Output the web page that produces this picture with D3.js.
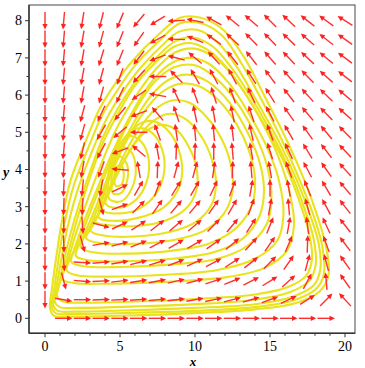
<!DOCTYPE html>
<html><head><meta charset="utf-8">
<script src="https://cdn.jsdelivr.net/npm/d3@7"></script>
<style>body{margin:0;background:#fff}svg{display:block}</style>
</head><body>
<script>
// ---- data ----
const xGrid = [0,1.25,2.5,3.75,5,6.25,7.5,8.75,10,11.25,12.5,13.75,15,16.25,17.5,18.75,20];
const yGrid = [0,0.5,1,1.5,2,2.5,3,3.5,4,4.5,5,5.5,6,6.5,7,7.5,8];
// direction of the field arrow at each grid node (degrees, 0 = right, 90 = up); rows bottom to top
const angleRows = [
 [null,0,0,0,0,0,0,0,0,0,0,0,0,0,0,0,null],
 [-90,-10,0,2,3,4,5,7,10,12,14,16,20,25,32,45,133],
 [-90,-75,-5,3,7,9,11,13,15,18,22,27,32,42,62,95,125],
 [-90,-85,-3,5,10,14,17,21,25,28,33,38,45,55,75,105,125],
 [-90,-88,-75,10,15,22,27,30,30,35,40,47,55,67,88,110,127],
 [-90,-90,-86,-15,25,33,38,40,40,45,50,57,68,80,97,115,128],
 [-90,-92,-93,-75,20,45,55,50,50,55,60,70,80,95,105,118,128],
 [-90,-93,-96,-100,25,60,70,58,60,65,70,80,90,100,112,120,130],
 [-90,-94,-100,-110,175,100,88,75,75,82,88,95,100,110,118,125,132],
 [-90,-95,-103,-118,-160,140,100,88,88,90,95,100,107,115,121,127,133],
 [-90,-95,-105,-120,-140,180,110,98,95,95,97,103,110,120,125,130,135],
 [-90,-95,-105,-115,-130,-160,130,108,102,100,102,108,117,125,130,134,138],
 [-90,-95,-100,-105,-115,-145,170,115,110,108,110,115,122,128,132,136,140],
 [-90,-95,-100,-105,-110,-133,180,135,120,118,118,122,127,131,134,138,142],
 [-90,-95,-100,-107,-112,-128,-160,165,140,132,128,128,131,134,137,140,143],
 [-90,-95,-100,-105,-112,-125,-152,178,158,145,137,134,134,136,139,142,145],
 [-90,-95,-99,-104,-113,-130,-148,-176,168,151,141,139,135,137,142,144,148]
];
// trajectory loops (x, y), outer to inner
const loopB1 = [[0.33,0.28],[0.55,0.08],[2,0.05],[6,0.08],[10,0.14],[14,0.24],[16.8,0.42],[18.3,0.72],[18.9,1.15],[18.75,1.9],[18.2,2.7],[17.3,3.7],[16.1,4.8],[14.6,6.0],[13.3,7.0],[11.9,7.75],[10.4,8.08],[9.0,8.08],[7.5,7.6],[5.9,6.95],[4.5,6.2],[3.6,5.6],[2.7,4.75],[1.7,3.7],[1.1,2.55],[0.7,1.5],[0.45,0.75]];
const loopB2 = [[0.45,0.3],[0.7,0.14],[2,0.12],[6,0.15],[10,0.2],[14,0.3],[16.7,0.5],[18.1,0.8],[18.6,1.2],[18.5,1.9],[18,2.65],[17.1,3.6],[15.9,4.7],[14.4,5.9],[13.1,6.85],[11.8,7.6],[10.4,7.93],[9.0,7.93],[7.6,7.45],[6.0,6.8],[4.7,6.05],[3.8,5.45],[2.9,4.6],[1.9,3.55],[1.25,2.45],[0.85,1.45],[0.6,0.75]];
const loopB3 = [[0.55,0.35],[0.85,0.2],[2,0.18],[6,0.22],[10,0.28],[14,0.38],[16.5,0.58],[17.9,0.88],[18.35,1.3],[18.25,2.0],[17.7,2.75],[16.8,3.7],[15.6,4.75],[14.1,5.85],[12.8,6.75],[11.5,7.42],[10.2,7.75],[8.9,7.7],[7.6,7.25],[6.1,6.6],[4.8,5.85],[3.9,5.2],[3.0,4.35],[2.1,3.35],[1.45,2.35],[1.0,1.4],[0.72,0.75]];
const loopB4 = [[0.65,0.45],[1.0,0.3],[2.2,0.28],[6,0.32],[10,0.38],[14,0.5],[16.3,0.7],[17.6,1.0],[18.05,1.45],[17.9,2.15],[17.3,2.95],[16.4,3.9],[15.2,4.9],[13.8,5.9],[12.5,6.7],[11.2,7.3],[9.9,7.55],[8.7,7.45],[7.4,7.0],[6.0,6.35],[4.8,5.6],[3.9,4.9],[3.1,4.05],[2.3,3.1],[1.65,2.2],[1.15,1.35],[0.85,0.75]];
const loopB5 = [[0.8,0.6],[1.2,0.45],[2.5,0.42],[6,0.45],[10,0.52],[14,0.64],[16.2,0.84],[17.4,1.14],[17.8,1.6],[17.6,2.3],[17.0,3.1],[16.1,4.05],[14.9,5.0],[13.5,5.95],[12.2,6.7],[10.9,7.2],[9.7,7.4],[8.6,7.3],[7.3,6.85],[5.9,6.2],[4.8,5.45],[3.9,4.75],[3.1,3.9],[2.35,2.95],[1.7,2.0],[1.2,1.2]];
const loopA2 = [[1.15,1.05],[1.9,0.95],[4,0.93],[8,0.98],[12,1.1],[14.6,1.35],[16.1,1.8],[16.6,2.5],[16.3,3.4],[15.5,4.4],[14.3,5.4],[12.9,6.3],[11.5,6.95],[10,7.25],[8.7,7.15],[7.4,6.7],[6.1,6.0],[4.9,5.2],[3.9,4.3],[2.9,3.25],[2.0,2.2],[1.5,1.5]];
const loopA3 = [[1.45,1.28],[2.2,1.15],[4,1.12],[8,1.17],[11.5,1.3],[14,1.6],[15.5,2.1],[15.9,2.8],[15.6,3.7],[14.8,4.6],[13.6,5.5],[12.3,6.3],[10.9,6.85],[9.5,7.0],[8.2,6.8],[6.9,6.25],[5.7,5.45],[4.6,4.55],[3.6,3.6],[2.6,2.6],[1.9,1.8]];
const loopA4 = [[1.75,1.52],[2.6,1.4],[5,1.38],[8.5,1.45],[11.5,1.6],[13.5,1.95],[14.8,2.55],[15.1,3.3],[14.8,4.1],[14.0,4.95],[12.8,5.8],[11.4,6.45],[10,6.8],[8.6,6.75],[7.3,6.35],[6.1,5.65],[5.0,4.8],[4.0,3.85],[3.1,2.95],[2.3,2.1]];
const loopA5 = [[2.05,1.68],[2.9,1.56],[5,1.53],[8.5,1.6],[11.3,1.78],[13.2,2.15],[14.3,2.75],[14.6,3.45],[14.3,4.2],[13.5,5.0],[12.3,5.8],[10.9,6.35],[9.5,6.55],[8.2,6.4],[7.0,5.95],[5.9,5.25],[4.9,4.45],[4.0,3.6],[3.2,2.8],[2.5,2.15]];
const loopA6 = [[2.4,1.9],[3.3,1.77],[5.5,1.74],[8.5,1.82],[11,2.02],[12.8,2.45],[13.8,3.05],[14.0,3.75],[13.6,4.5],[12.8,5.2],[11.6,5.85],[10.2,6.25],[8.9,6.3],[7.7,6.05],[6.6,5.55],[5.6,4.9],[4.7,4.15],[3.9,3.35],[3.1,2.55]];
const loopA7 = [[2.75,2.15],[3.7,2.02],[5.8,2.0],[8.5,2.1],[10.6,2.35],[11.9,2.8],[12.5,3.4],[12.4,4.1],[11.8,4.8],[10.8,5.4],[9.6,5.8],[8.4,5.85],[7.3,5.6],[6.3,5.1],[5.4,4.5],[4.6,3.8],[3.8,3.0],[3.2,2.5]];
const loopA8 = [[3.05,2.35],[4.0,2.22],[6,2.2],[8.3,2.32],[10.1,2.6],[11.1,3.05],[11.4,3.65],[11.1,4.3],[10.4,4.9],[9.4,5.35],[8.3,5.5],[7.2,5.3],[6.2,4.85],[5.3,4.25],[4.5,3.6],[3.7,2.9]];
const loopA9 = [[3.35,2.6],[4.3,2.5],[6.1,2.48],[8.0,2.62],[9.4,2.95],[10.1,3.45],[10.1,4.05],[9.6,4.6],[8.8,5.05],[7.8,5.2],[6.8,5.05],[5.9,4.65],[5.0,4.05],[4.3,3.4],[3.7,2.9]];
const loopA10 = [[3.6,2.7],[4.7,2.62],[6.2,2.7],[7.8,2.95],[8.8,3.4],[9.15,3.95],[8.9,4.55],[8.2,5.05],[7.2,5.3],[6.2,5.2],[5.3,4.75],[4.5,4.05],[3.9,3.3]];
const loopA11 = [[3.85,2.9],[5.0,2.82],[6.3,2.95],[7.4,3.35],[7.95,3.95],[7.8,4.55],[7.1,5.0],[6.1,5.1],[5.2,4.8],[4.5,4.2],[4.0,3.5]];
const loopA12 = [[4.1,3.05],[5.1,2.98],[6.1,3.2],[6.8,3.7],[6.9,4.3],[6.4,4.75],[5.6,4.9],[4.85,4.6],[4.3,4.0],[4.05,3.45]];
const loopA13 = [[4.3,3.2],[5.1,3.15],[5.8,3.5],[6.05,4.05],[5.7,4.5],[5.0,4.6],[4.45,4.25],[4.2,3.65]];
const loopA14 = [[4.55,3.35],[5.1,3.38],[5.5,3.75],[5.45,4.15],[5.0,4.35],[4.6,4.1],[4.42,3.7]];
const loopA15 = [[4.75,3.55],[5.1,3.6],[5.25,3.85],[5.1,4.1],[4.8,4.08],[4.62,3.8]];
const loops = [loopB1,loopB2,loopB3,loopB4,loopB5,loopA2,loopA3,loopA4,loopA5,loopA6,loopA7,loopA8,loopA9,loopA10,loopA11,loopA12,loopA13,loopA14,loopA15];
const xTicks = [0,5,10,15,20];
const yTicks = [0,1,2,3,4,5,6,7,8];
const xMinor = [1,2,3,4,6,7,8,9,11,12,13,14,16,17,18,19];
const yMinor = [0.5,1.5,2.5,3.5,4.5,5.5,6.5,7.5];

// ---- drawing ----
const W = 365, H = 368;
const svg = d3.select('body').append('svg').attr('width', W).attr('height', H);
const x = d3.scaleLinear().domain([-1.067, 20.667]).range([29, 355]);
const y = d3.scaleLinear().domain([-0.403, 8.422]).range([333.3, 5]);
const [x0, x1] = x.domain(), [y0, y1] = y.domain();

// trajectories
const line = d3.line().x(d => x(d[0])).y(d => y(d[1])).curve(d3.curveCatmullRomClosed.alpha(0.5));
svg.append('g').selectAll('path').data(loops).join('path')
  .attr('d', line).attr('fill', 'none').attr('stroke', '#e9e31e').attr('stroke-width', 2.1);

// field arrows
const L = 17.5, headL = 5.5, headW = 2.6;
const arrows = [];
angleRows.forEach((row, i) => row.forEach((a, j) => { if (a !== null) arrows.push({gx: xGrid[j], gy: yGrid[i], a}); }));
const ag = svg.append('g');
arrows.forEach(d => {
  const cx = x(d.gx), cy = y(d.gy), t = d.a * Math.PI / 180;
  const ux = Math.cos(t), uy = -Math.sin(t);
  const tx = cx + ux * L / 2, ty = cy + uy * L / 2;
  const sx = cx - ux * L / 2, sy = cy - uy * L / 2;
  const bx = tx - ux * headL, by = ty - uy * headL;
  ag.append('line').attr('x1', sx).attr('y1', sy).attr('x2', bx + ux).attr('y2', by + uy)
    .attr('stroke', '#ff3030').attr('stroke-width', 1.4);
  ag.append('path').attr('d', `M${tx},${ty}L${bx - uy * headW},${by + ux * headW}L${bx + uy * headW},${by - ux * headW}Z`)
    .attr('fill', '#ff2020');
});

// frame
svg.append('rect').attr('x', x(x0)).attr('y', y(y1)).attr('width', x(x1) - x(x0)).attr('height', y(y0) - y(y1))
  .attr('fill', 'none').attr('stroke', '#666').attr('stroke-width', 1.2);
svg.append('line').attr('x1', x(x0)).attr('x2', x(x0)).attr('y1', y(y0)).attr('y2', y(y1)).attr('stroke', '#333').attr('stroke-width', 1.4);
svg.append('line').attr('x1', x(x0)).attr('x2', x(x1)).attr('y1', y(y0)).attr('y2', y(y0)).attr('stroke', '#333').attr('stroke-width', 1.4);

// ticks
const tg = svg.append('g').attr('stroke', '#333').attr('stroke-width', 1);
xTicks.forEach(v => tg.append('line').attr('x1', x(v)).attr('x2', x(v)).attr('y1', y(y0)).attr('y2', y(y0) + 4));
xMinor.forEach(v => tg.append('line').attr('x1', x(v)).attr('x2', x(v)).attr('y1', y(y0)).attr('y2', y(y0) + 2.5));
yTicks.forEach(v => tg.append('line').attr('y1', y(v)).attr('y2', y(v)).attr('x1', x(x0)).attr('x2', x(x0) - 4));
yMinor.forEach(v => tg.append('line').attr('y1', y(v)).attr('y2', y(v)).attr('x1', x(x0)).attr('x2', x(x0) - 2.5));

const font = "'Liberation Serif','Times New Roman',serif";
svg.append('g').selectAll('text').data(xTicks).join('text')
  .attr('x', d => x(d)).attr('y', 351).attr('text-anchor', 'middle')
  .attr('font-family', font).attr('font-size', 14).attr('fill', '#000').text(d => d);
svg.append('g').selectAll('text').data(yTicks).join('text')
  .attr('x', 22).attr('y', d => y(d) + 4.8).attr('text-anchor', 'end')
  .attr('font-family', font).attr('font-size', 14).attr('fill', '#000').text(d => d);
svg.append('text').attr('x', 193).attr('y', 366).attr('text-anchor', 'middle')
  .attr('font-family', font).attr('font-size', 13).attr('font-style', 'italic').attr('font-weight', 'bold').text('x');
svg.append('text').attr('x', 6).attr('y', 177).attr('text-anchor', 'middle')
  .attr('font-family', font).attr('font-size', 14).attr('font-style', 'italic').attr('font-weight', 'bold').text('y');
</script>
</body></html>
